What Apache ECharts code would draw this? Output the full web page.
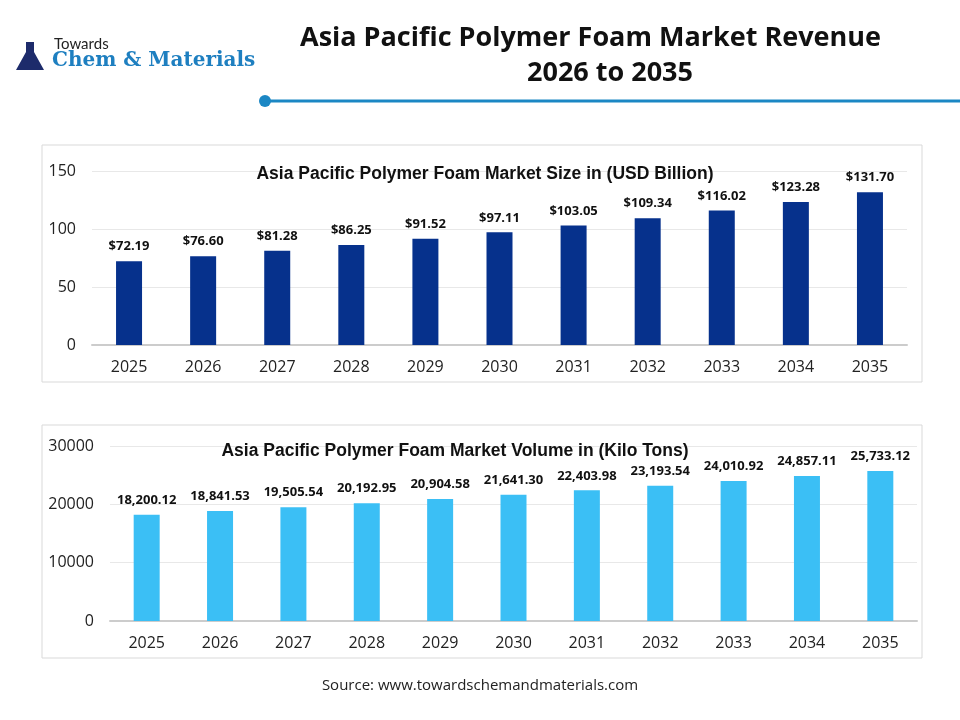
<!DOCTYPE html>
<html>
<head>
<meta charset="utf-8">
<style>html,body{margin:0;background:#fff}#main{width:960px;height:720px}</style>
<script src="https://cdn.jsdelivr.net/npm/echarts@6/dist/echarts.min.js"></script>
</head>
<body>
<div id="main"></div>
<script>
var years = ['2025','2026','2027','2028','2029','2030','2031','2032','2033','2034','2035'];
var revenue = [72.19, 76.60, 81.28, 86.25, 91.52, 97.11, 103.05, 109.34, 116.02, 123.28, 131.70];
var volume = [18200.12, 18841.53, 19505.54, 20192.95, 20904.58, 21641.30, 22403.98, 23193.54, 24010.92, 24857.11, 25733.12];

var chart = echarts.init(document.getElementById('main'));
var tickFont = {fontFamily: 'Open Sans', fontSize: 16, color: '#222'};
var lblFont = {fontFamily: 'Open Sans', fontSize: 13, fontWeight: 'bold', color: '#111'};

chart.setOption({
    backgroundColor: '#fff',
    animation: false,
    graphic: [
        {type: 'rect', shape: {x: 42, y: 145, width: 880, height: 237}, style: {fill: 'none', stroke: '#d9d9d9', lineWidth: 1}},
        {type: 'rect', shape: {x: 42, y: 425, width: 880, height: 233}, style: {fill: 'none', stroke: '#d9d9d9', lineWidth: 1}},
        {type: 'line', shape: {x1: 265, y1: 101, x2: 960, y2: 101}, style: {stroke: '#1b87c4', lineWidth: 3}},
        {type: 'circle', shape: {cx: 265, cy: 101, r: 6}, style: {fill: '#1b87c4'}},
        {type: 'text', left: 610 - 310, top: 25, style: {text: 'Asia Pacific Polymer Foam Market Revenue', fontFamily: 'Open Sans', fontWeight: 'bold', fontSize: 27, fill: '#111', width: 620, align: 'center'}},
        {type: 'text', x: 610, y: 60, style: {text: '2026 to 2035', fontFamily: 'Open Sans', fontWeight: 'bold', fontSize: 27, fill: '#111', align: 'center'}},
        {type: 'text', x: 54, y: 37, style: {text: 'Towards', fontFamily: 'Lato', fontSize: 15, fill: '#222'}},
        {type: 'text', x: 52, y: 51, style: {text: 'Chem & Materials', fontFamily: 'DejaVu Serif', fontWeight: 'bold', fontSize: 20, fill: '#1e7fc0'}},
        {type: 'polygon', shape: {points: [[26, 42], [34, 42], [34, 52], [44, 70], [16, 70], [26, 52]]}, style: {fill: '#1d2b6b'}},
        {type: 'text', x: 480, y: 678, style: {text: 'Source: www.towardschemandmaterials.com', fontFamily: 'Open Sans', fontSize: 15, fill: '#222', align: 'center'}}
    ],
    title: [
        {text: 'Asia Pacific Polymer Foam Market Size in (USD Billion)', left: 480, top: 160, textAlign: 'center',
            textStyle: {fontFamily: 'Liberation Sans', fontWeight: 'bold', fontSize: 17.5, color: '#111'}},
        {text: 'Asia Pacific Polymer Foam Market Volume in (Kilo Tons)', left: 450, top: 437, textAlign: 'center',
            textStyle: {fontFamily: 'Liberation Sans', fontWeight: 'bold', fontSize: 17.5, color: '#111'}}
    ],
    grid: [
        {left: 92, width: 815, top: 171, height: 174},
        {left: 110, width: 807, top: 446, height: 175}
    ],
    xAxis: [
        {type: 'category', gridIndex: 0, data: years, axisTick: {show: false},
            axisLine: {lineStyle: {color: '#ccc', width: 2}}, axisLabel: Object.assign({margin: 14}, tickFont)},
        {type: 'category', gridIndex: 1, data: years, axisTick: {show: false},
            axisLine: {lineStyle: {color: '#ccc', width: 2}}, axisLabel: Object.assign({margin: 14}, tickFont)}
    ],
    yAxis: [
        {type: 'value', gridIndex: 0, min: 0, max: 150, interval: 50, axisLabel: Object.assign({margin: 16}, tickFont),
            splitLine: {lineStyle: {color: '#e8e8e8'}}},
        {type: 'value', gridIndex: 1, min: 0, max: 30000, interval: 10000,
            axisLabel: Object.assign({margin: 16, formatter: function (v) { return String(v); }}, tickFont),
            splitLine: {lineStyle: {color: '#e8e8e8'}}}
    ],
    series: [
        {type: 'bar', xAxisIndex: 0, yAxisIndex: 0, data: revenue, barWidth: 26, itemStyle: {color: '#06318c'},
            label: Object.assign({show: true, position: 'top', distance: 8,
                formatter: function (p) { return '$' + p.value.toFixed(2); }}, lblFont)},
        {type: 'bar', xAxisIndex: 1, yAxisIndex: 1, data: volume, barWidth: 26, itemStyle: {color: '#3bbff5'},
            label: Object.assign({show: true, position: 'top', distance: 8,
                formatter: function (p) { return p.value.toLocaleString('en-US', {minimumFractionDigits: 2, maximumFractionDigits: 2}); }}, lblFont)}
    ]
});
</script>
</body>
</html>
